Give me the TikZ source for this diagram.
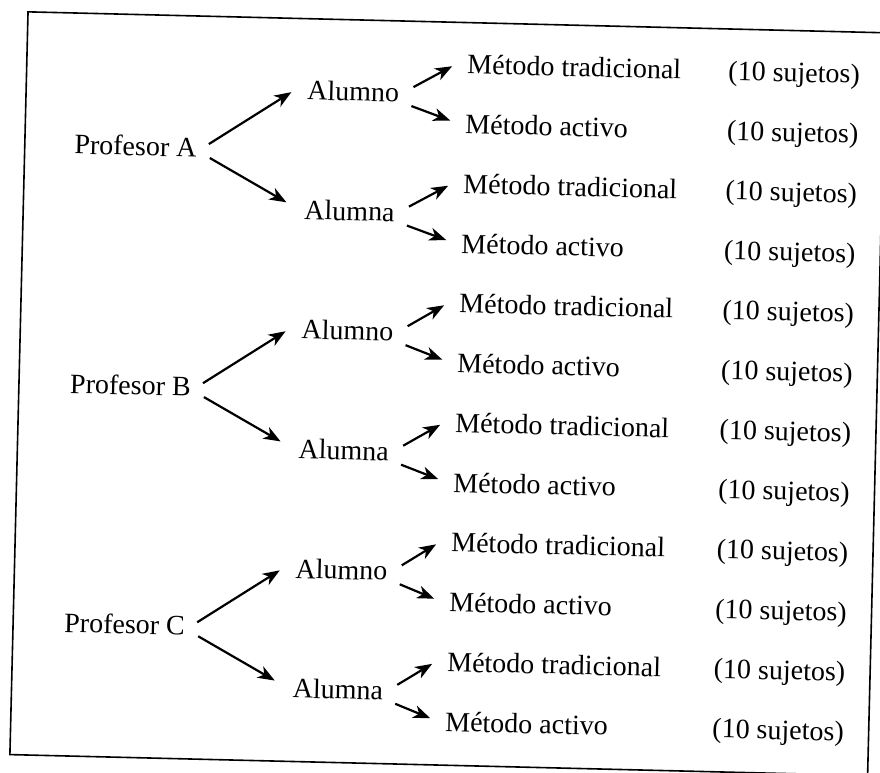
\documentclass[tikz,border=0pt]{standalone}
\usepackage{fontspec}
\setmainfont{Liberation Serif}
\usetikzlibrary{arrows.meta}
\tikzset{
  lbl/.style={inner sep=0pt, font=\fontsize{28}{30}\selectfont},
  prof/.style={lbl, anchor=base east},
  pupil/.style={lbl, anchor=base west},
  meth/.style={lbl, anchor=base west},
  cnt/.style={lbl, anchor=base west},
  arr/.style={line width=2.2pt, -{Stealth[length=17pt,width=13pt,inset=5pt]}},
  frame/.style={line width=1.6pt}
}
\begin{document}
\begin{tikzpicture}[x=1pt,y=-1pt]
\useasboundingbox (0,0) rectangle (880,773);
\clip (0,0) rectangle (880,773);
\fill[white] (0,0) rectangle (880,773);
\begin{scope}[rotate around={-1.4:(440,386)}, transform shape]
  % outer frame
  \draw[frame] (19,22) rectangle (877,765);
  % one branch per teacher: teacher -> pupil -> method -> group size
  \foreach \p/\i in {A/0,B/1,C/2} {
    \pgfmathsetmacro{\yprof}{73.2+(4*\i+1.5)*59.8}
    \pgfmathsetmacro{\yboy}{73.2+(4*\i+0.5)*59.8}
    \pgfmathsetmacro{\ygirl}{73.2+(4*\i+2.5)*59.8}
    \node[prof] (prof\p) at (191,\yprof) {Profesor \p};
    \node[pupil] (alumno\p) at (300,\yboy) {Alumno};
    \node[pupil] (alumna\p) at (300,\ygirl) {Alumna};
    \foreach \k in {1,2,3,4} {
      \pgfmathsetmacro{\n}{4*\i+\k-1}
      \pgfmathsetmacro{\yrow}{73.2+\n*59.8}
      \pgfmathsetmacro{\xrow}{459.4-\n*0.55}
      \ifodd\k
        \node[meth] (met\p\k) at (\xrow,\yrow) {Método tradicional};
      \else
        \node[meth] (met\p\k) at (\xrow,\yrow) {Método activo};
      \fi
      \node[cnt] (cnt\p\k) at (720.5,\yrow) {(10 sujetos)};
    }
    \draw[arr] ([xshift=12pt,yshift=3.4pt]prof\p.east) -- ([xshift=-15.7pt,yshift=-2.3pt]alumno\p.west);
    \draw[arr] ([xshift=13.3pt,yshift=-10.5pt]prof\p.east) -- ([xshift=-18pt,yshift=7pt]alumna\p.west);
    \draw[arr] ([xshift=14pt,yshift=5.7pt]alumno\p.east) -- ([xshift=-15pt,yshift=-2.4pt]met\p1.west);
    \draw[arr] ([xshift=12.4pt,yshift=-13.3pt]alumno\p.east) -- ([xshift=-15pt,yshift=3pt]met\p2.west);
    \draw[arr] ([xshift=14pt,yshift=5.7pt]alumna\p.east) -- ([xshift=-15pt,yshift=-2.4pt]met\p3.west);
    \draw[arr] ([xshift=12.4pt,yshift=-13.3pt]alumna\p.east) -- ([xshift=-15pt,yshift=3pt]met\p4.west);
  }
\end{scope}
\end{tikzpicture}
\end{document}
